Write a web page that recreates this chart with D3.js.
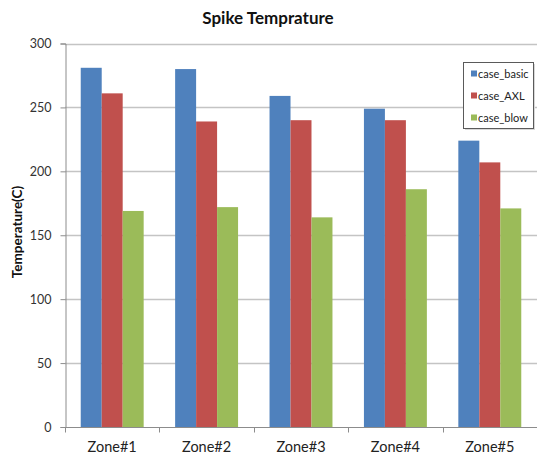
<!DOCTYPE html>
<html>
<head>
<meta charset="utf-8">
<script src="https://cdn.jsdelivr.net/npm/d3@7/dist/d3.min.js"></script>
<style>
  html, body { margin: 0; padding: 0; background: #fff; }
  svg { display: block; font-family: Lato, "Open Sans", sans-serif; }
</style>
</head>
<body>
<svg id="chart" width="537" height="456"></svg>
<script>
// Zones along the x axis
const zones = ["Zone#1", "Zone#2", "Zone#3", "Zone#4", "Zone#5"];
// Series names, in legend order
const seriesNames = ["case_basic", "case_AXL", "case_blow"];
// Spike temperature per zone, one array per case
const caseBasic = [281, 280, 259, 249, 224];
const caseAXL   = [261, 239, 240, 240, 207];
const caseBlow  = [169, 172, 164, 186, 171];
// Y axis ticks
const yTicks = [0, 50, 100, 150, 200, 250, 300];

const seriesValues = [caseBasic, caseAXL, caseBlow];
const colors = ["#4F81BD", "#C0504D", "#9BBB59"];

const W = 537, H = 456;
const margin = { top: 43.5, right: 0, bottom: 29, left: 65 };
const svg = d3.select("#chart");

const x0 = d3.scaleBand()
  .domain(zones)
  .range([margin.left, W - margin.right])
  .paddingInner(1 / 3)
  .paddingOuter(1 / 6);

const x1 = d3.scaleBand()
  .domain(seriesNames)
  .range([0, x0.bandwidth()]);

const y = d3.scaleLinear()
  .domain([0, 300])
  .range([H - margin.bottom, margin.top]);

// Horizontal gridlines
svg.append("g")
  .selectAll("line")
  .data(yTicks.filter(t => t > 0))
  .join("line")
  .attr("x1", margin.left)
  .attr("x2", W - margin.right)
  .attr("y1", d => Math.round(y(d)) + 0.5)
  .attr("y2", d => Math.round(y(d)) + 0.5)
  .attr("stroke", "#c4c4c4")
  .attr("stroke-width", 1.5);

// Bars
const groups = svg.append("g")
  .selectAll("g")
  .data(zones)
  .join("g")
  .attr("transform", d => `translate(${x0(d)},0)`);

groups.selectAll("rect")
  .data((z, i) => seriesNames.map((s, k) => ({ s, v: seriesValues[k][i], c: colors[k] })))
  .join("rect")
  .attr("x", d => x1(d.s))
  .attr("width", x1.bandwidth())
  .attr("y", d => y(d.v))
  .attr("height", d => y(0) - y(d.v))
  .attr("fill", d => d.c);

// Y axis
const yAxis = d3.axisLeft(y)
  .tickValues(yTicks)
  .tickSize(5)
  .tickPadding(9);
const gy = svg.append("g")
  .attr("transform", `translate(${margin.left + 0.5},0)`)
  .call(yAxis);
gy.select(".domain").attr("stroke", "#8c8c8c");
gy.selectAll(".tick line").attr("stroke", "#8c8c8c");
gy.selectAll(".tick text")
  .attr("fill", "#333")
  .style("font-size", "12.5px")
  .style("font-family", "Lato, sans-serif");

// X axis: tick marks sit on the boundaries between zones
const xAxisLine = svg.append("g");
const y0 = Math.round(y(0)) + 0.5;
xAxisLine.append("line")
  .attr("x1", margin.left)
  .attr("x2", W - margin.right)
  .attr("y1", y0)
  .attr("y2", y0)
  .attr("stroke", "#8c8c8c");
const step = x0.step();
xAxisLine.selectAll("line.tk")
  .data(d3.range(zones.length + 1))
  .join("line")
  .attr("class", "tk")
  .attr("x1", i => Math.round(margin.left + i * step) + 0.5)
  .attr("x2", i => Math.round(margin.left + i * step) + 0.5)
  .attr("y1", y0)
  .attr("y2", y0 + 5)
  .attr("stroke", "#8c8c8c");
xAxisLine.selectAll("text")
  .data(zones)
  .join("text")
  .attr("x", d => x0(d) + x0.bandwidth() / 2)
  .attr("y", 452)
  .attr("text-anchor", "middle")
  .attr("fill", "#222")
  .style("font-size", "14.5px")
  .text(d => d);

// Title
svg.append("text")
  .attr("x", 268)
  .attr("y", 24)
  .attr("text-anchor", "middle")
  .attr("fill", "#111")
  .style("font-size", "17px")
  .style("font-weight", "bold")
  .text("Spike Temprature");

// Y axis title
svg.append("text")
  .attr("transform", `translate(22,${232}) rotate(-90)`)
  .attr("text-anchor", "middle")
  .attr("fill", "#111")
  .style("font-size", "13.5px")
  .style("font-weight", "bold")
  .text("Temperature(C)");

// Legend
const lg = svg.append("g").attr("transform", "translate(463.5,62.5)");
lg.append("rect")
  .attr("x", 1.5).attr("y", 1.5)
  .attr("width", 70).attr("height", 66)
  .attr("fill", "#d8d8d8");
lg.append("rect")
  .attr("width", 70).attr("height", 66)
  .attr("fill", "#fff")
  .attr("stroke", "#5a5a5a");
const items = lg.selectAll("g.item")
  .data(seriesNames)
  .join("g")
  .attr("class", "item")
  .attr("transform", (d, i) => `translate(0,${11 + i * 22})`);
items.append("rect")
  .attr("x", 7.5).attr("y", -3)
  .attr("width", 6).attr("height", 6)
  .attr("fill", (d, i) => colors[i]);
items.append("text")
  .attr("x", 14.5)
  .attr("y", 4)
  .attr("fill", "#222")
  .style("font-size", "11px")
  .text(d => d);
</script>
</body>
</html>
